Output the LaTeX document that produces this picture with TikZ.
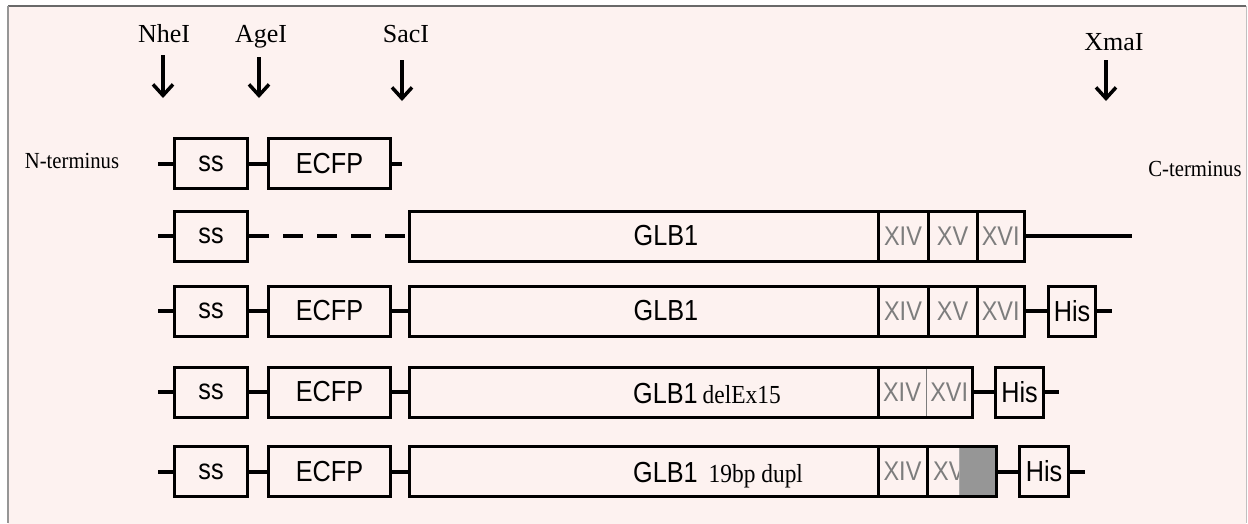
\documentclass[tikz,border=0pt]{standalone}
\usepackage{fontspec}
\setmainfont{Liberation Serif}
\newfontfamily\sansf[FakeStretch=0.87]{Liberation Sans}
\newfontfamily\serifc[FakeStretch=0.9]{Liberation Serif}
\usetikzlibrary{arrows.meta}
\definecolor{bgpink}{RGB}{253,242,240}
\definecolor{numgrey}{RGB}{125,125,125}
\definecolor{dupgrey}{RGB}{150,150,150}
\definecolor{framegrey}{RGB}{150,150,150}
\begin{document}
\begin{tikzpicture}[x=1pt,y=-1pt,
  box/.style={draw=black, line width=3pt, inner sep=0pt, minimum height=50pt,
    font=\sansf\fontsize{29}{30}\selectfont},
  num/.style={inner sep=0pt, minimum height=50pt, text=numgrey,
    font=\sansf\fontsize{27}{28}\selectfont},
  numbox/.style={num, draw=black, line width=3pt},
  plain/.style={inner sep=0pt, font=\sansf\fontsize{29}{30}\selectfont},
  link/.style={line width=4pt},
  cutarrow/.style={line width=3.5pt, -{Straight Barb[length=11pt,width=20pt]}},
  enz/.style={font=\fontsize{26}{27}\selectfont, inner sep=0pt, anchor=base},
  term/.style={font=\serifc\fontsize{23}{24}\selectfont, inner sep=0pt, anchor=base}]
\useasboundingbox (0,0) rectangle (1248,523);
\fill[white] (0,0) rectangle (1248,523);
\fill[bgpink] (8,6) rectangle (1246,530);
\draw[framegrey!70!black, line width=2pt] (8,6) -- (1246,6);
\draw[framegrey, line width=1.5pt] (8,6) -- (8,523);
\draw[framegrey!60, line width=1pt] (1246,6) -- (1246,523);

% enzyme sites
\node[enz] (nhe) at (164,42) {NheI};
\node[enz] (age) at (261,42) {AgeI};
\node[enz] (sac) at (406,42) {SacI};
\node[enz] (xma) at (1114,50) {XmaI};
\coordinate (nheS) at (163,55);  \coordinate (nheT) at (163,98);
\coordinate (ageS) at (259,57);  \coordinate (ageT) at (259,98);
\coordinate (sacS) at (402,60);  \coordinate (sacT) at (402,101);
\coordinate (xmaS) at (1106,60); \coordinate (xmaT) at (1106,101);
\draw[cutarrow] (nheS) -- (nheT);
\draw[cutarrow] (ageS) -- (ageT);
\draw[cutarrow] (sacS) -- (sacT);
\draw[cutarrow] (xmaS) -- (xmaT);

\node[term] (nterm) at (72,168) {N-terminus};
\node[term] (cterm) at (1195,176) {C-terminus};

% row 1
\node[box, minimum width=73pt] (ss1) at (211,163.5) {ss};
\node[box, minimum width=122pt] (ecfp1) at (329.5,163.5) {ECFP};
\coordinate (l1) at (158,163.5);
\coordinate (r1) at (402,163.5);
\draw[link] (l1) -- (ss1.west);
\draw[link] (ss1.east) -- (ecfp1.west);
\draw[link] (ecfp1.east) -- (r1);

% row 2
\node[box, minimum width=73pt] (ss2) at (211,236) {ss};
\node[box, minimum width=468.5pt] (glb2) at (643.75,236) {};
\node[plain] (glbt2) at (666,236) {GLB1};
\node[numbox, minimum width=50pt] (xiv2) at (903,236) {XIV};
\node[numbox, minimum width=49pt] (xv2) at (952.5,236) {XV};
\node[numbox, minimum width=47.5pt] (xvi2) at (1000.75,236) {XVI};
\coordinate (l2) at (158,236);
\coordinate (r2) at (1132,236);
\draw[link] (l2) -- (ss2.west);
\draw[link, dash pattern=on 20pt off 14pt] (ss2.east) -- (glb2.west);
\draw[link] (xvi2.east) -- (r2);

% row 3
\node[box, minimum width=73pt] (ss3) at (211,311) {ss};
\node[box, minimum width=122pt] (ecfp3) at (329.5,311) {ECFP};
\node[box, minimum width=468.5pt] (glb3) at (643.75,311) {};
\node[plain] (glbt3) at (666,311) {GLB1};
\node[numbox, minimum width=50pt] (xiv3) at (903,311) {XIV};
\node[numbox, minimum width=49pt] (xv3) at (952.5,311) {XV};
\node[numbox, minimum width=47.5pt] (xvi3) at (1000.75,311) {XVI};
\node[box, minimum width=47pt] (his3) at (1072,311) {His};
\coordinate (l3) at (158,311);
\coordinate (r3) at (1112,311);
\draw[link] (l3) -- (ss3.west);
\draw[link] (ss3.east) -- (ecfp3.west);
\draw[link] (ecfp3.east) -- (glb3.west);
\draw[link] (xvi3.east) -- (his3.west);
\draw[link] (his3.east) -- (r3);

% row 4
\node[box, minimum width=73pt] (ss4) at (211,392) {ss};
\node[box, minimum width=122pt] (ecfp4) at (329.5,392) {ECFP};
\node[box, minimum width=468.5pt] (glb4) at (643.75,392) {};
\node[inner sep=0pt, anchor=base west] (glbt4) at (633,403)
  {{\sansf\fontsize{29}{30}\selectfont GLB1}\hspace{5pt}{\serifc\fontsize{26}{27}\selectfont delEx15}};
\node[num, minimum width=48pt] (xiv4) at (902,392) {XIV};
\node[num, minimum width=46.5pt] (xvi4) at (949.25,392) {XVI};
\draw[numgrey, line width=1pt] (xiv4.north east) -- (xiv4.south east);
\node[box, minimum width=94.5pt] (grp4) at (925.25,392) {};
\node[box, minimum width=48pt] (his4) at (1019.5,392) {His};
\coordinate (l4) at (158,392);
\coordinate (r4) at (1059,392);
\draw[link] (l4) -- (ss4.west);
\draw[link] (ss4.east) -- (ecfp4.west);
\draw[link] (ecfp4.east) -- (glb4.west);
\draw[link] (grp4.east) -- (his4.west);
\draw[link] (his4.east) -- (r4);

% row 5
\node[box, minimum width=73pt] (ss5) at (211,471.5) {ss};
\node[box, minimum width=122pt] (ecfp5) at (329.5,471.5) {ECFP};
\node[box, minimum width=468.5pt] (glb5) at (643.75,471.5) {};
\node[inner sep=0pt, anchor=base west] (glbt5) at (633,482)
  {{\sansf\fontsize{29}{30}\selectfont GLB1}\hspace{11pt}{\serifc\fontsize{26}{27}\selectfont 19bp dupl}};
\node[numbox, minimum width=49pt] (xiv5) at (902.5,471.5) {XIV};
\node[num, anchor=west, inner xsep=0pt] (xv5) at (933,471.5) {XV};
\node[fill=dupgrey, draw=dupgrey!80, line width=1pt, inner sep=0pt,
  minimum width=37.5pt, minimum height=50pt] (dup5) at (977.75,471.5) {};
\node[box, minimum width=69.5pt] (grp5) at (961.75,471.5) {};
\node[box, minimum width=49pt] (his5) at (1044,471.5) {His};
\coordinate (l5) at (158,471.5);
\coordinate (r5) at (1085,471.5);
\draw[link] (l5) -- (ss5.west);
\draw[link] (ss5.east) -- (ecfp5.west);
\draw[link] (ecfp5.east) -- (glb5.west);
\draw[link] (grp5.east) -- (his5.west);
\draw[link] (his5.east) -- (r5);
\end{tikzpicture}
\end{document}
